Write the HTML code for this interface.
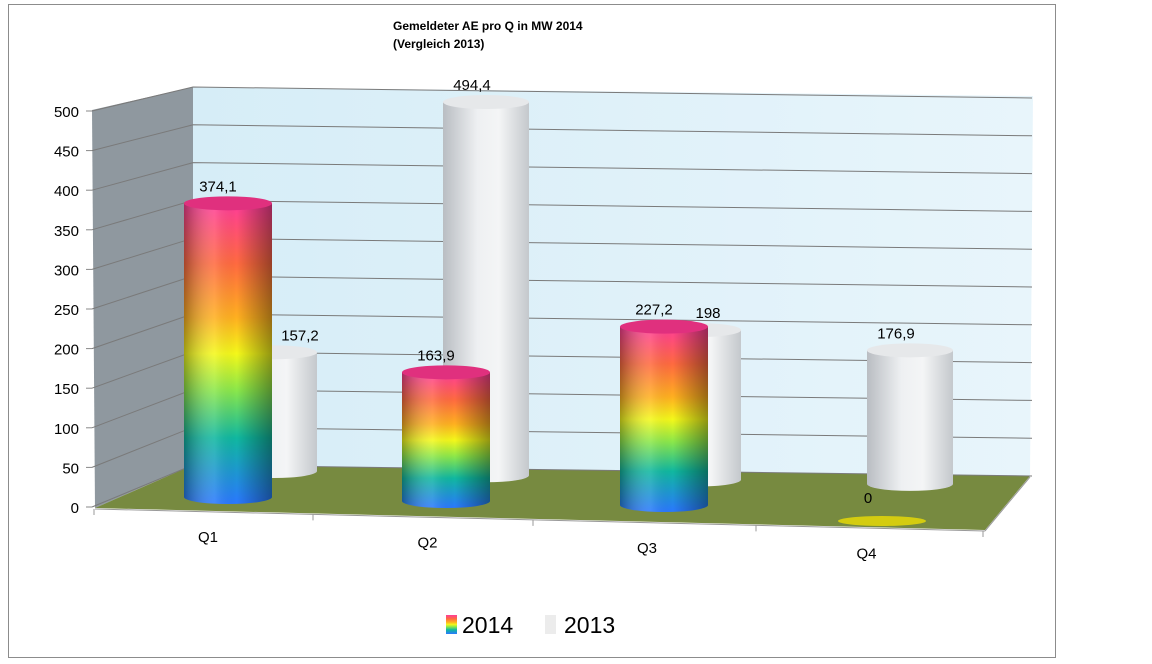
<!DOCTYPE html>
<html><head><meta charset="utf-8"><style>
html,body{margin:0;padding:0;background:#fff;}
svg{display:block;font-family:"Liberation Sans",sans-serif;}
</style></head><body>
<svg id="chart" width="1152" height="664" viewBox="0 0 1152 664" xmlns="http://www.w3.org/2000/svg">
<defs>
<linearGradient id="rain" x1="0" y1="0" x2="0" y2="1">
<stop offset="0" stop-color="#ff3d98"/><stop offset="0.2" stop-color="#ff6a40"/><stop offset="0.38" stop-color="#ffb020"/>
<stop offset="0.5" stop-color="#f4f81a"/><stop offset="0.62" stop-color="#8ce84a"/><stop offset="0.78" stop-color="#10b8a0"/>
<stop offset="1" stop-color="#2a78ff"/></linearGradient>
<linearGradient id="shade" x1="0" y1="0" x2="1" y2="0">
<stop offset="0" stop-color="#000" stop-opacity="0.35"/><stop offset="0.35" stop-color="#fff" stop-opacity="0.12"/>
<stop offset="0.6" stop-color="#000" stop-opacity="0"/><stop offset="1" stop-color="#000" stop-opacity="0.4"/></linearGradient>
<linearGradient id="grey" x1="0" y1="0" x2="1" y2="0">
<stop offset="0" stop-color="#b9bdc2"/><stop offset="0.4" stop-color="#eef0f2"/><stop offset="0.65" stop-color="#f4f5f6"/><stop offset="1" stop-color="#c4c8cc"/></linearGradient>
<linearGradient id="wall" x1="0" y1="0" x2="1" y2="0">
<stop offset="0" stop-color="#d6edf7"/><stop offset="1" stop-color="#e8f5fb"/></linearGradient>
</defs>
<rect x="8.5" y="4.5" width="1047" height="653" fill="#fff" stroke="#8c8c8c"/>
<text x="393" y="30" font-size="12" font-weight="bold">Gemeldeter AE  pro Q in MW 2014</text>
<text x="393" y="48" font-size="12" font-weight="bold">(Vergleich 2013)</text>
<polygon points="92,110 193,87 193,465 95,508" fill="#8f989f"/>
<polygon points="193,87 1033,96 1030,476 193,465" fill="url(#wall)"/>
<polygon points="95,508 193,465 1030,476 985,530" fill="#778a40"/>
<line x1="95" y1="509" x2="985" y2="531" stroke="#999"/>
<line x1="985" y1="531" x2="1030" y2="477" stroke="#999"/>
<g id="grid"></g><g id="axis"></g><g id="bars"></g><g id="labels"></g>
<g>
<rect x="446" y="615" width="11" height="19" fill="url(#rain)"/>
<text x="462" y="633" font-size="23">2014</text>
<rect x="545" y="615" width="11" height="19" fill="#ececec"/>
<text x="564" y="633" font-size="23">2013</text>
</g>
</svg>
<script>
const categories=["Q1","Q2","Q3","Q4"];
const values2014=[374.1,163.9,227.2,0];
const values2013=[157.2,494.4,198,176.9];
const labels2014=["374,1","163,9","227,2","0"];
const labels2013=["157,2","494,4","198","176,9"];
const ticks=[0,50,100,150,200,250,300,350,400,450,500];
const NS="http://www.w3.org/2000/svg";
function mk(t,a,p){const e=document.createElementNS(NS,t);for(const k in a)e.setAttribute(k,a[k]);p.appendChild(e);return e;}
// axis functions
function yFront(v){return 507-v*0.792;}
function yBack(v){return 465-v*0.756;}
function yBackR(v){return 476-v*0.756;}
function xCat(i,row){return row===0?228+i*218:274+i*212;}
function baseY(i,row){return row===0?497+i*4:471+i*4.3;}
const grid=document.getElementById('grid'),axis=document.getElementById('axis'),bars=document.getElementById('bars'),labels=document.getElementById('labels');
ticks.forEach(v=>{
 const g=mk('polyline',{points:`92,${yFront(v)} 193,${yBack(v)} 1032,${yBackR(v)}`,fill:'none',stroke:'#7a7a7a','stroke-width':1},grid);
 
 
 const t=mk('text',{x:79,y:yFront(v)+6,'font-size':15,'text-anchor':'end'},axis);t.textContent=v;
 
 
 const tk=mk('line',{x1:86,y1:yFront(v),x2:92,y2:yFront(v),stroke:'#888'},axis);
 
 
});
[94,313,533,756,983].forEach((x,i)=>{const y=509+(x-95)*22/890;const l=mk('line',{x1:x,y1:y,x2:x,y2:y+6,stroke:'#999'},axis);
 
 });
categories.forEach((c,i)=>{const x=208+i*219.5,y=542+i*5.5;const t=mk('text',{x:x,y:y,'font-size':15,'text-anchor':'middle'},axis);t.textContent=c;
 
 });
function cyl(cx,by,h,rx,fill,over,name){
 const g=mk('g',{},bars);
 
 
 const ry=7,ty=by-h;
 if(h<=0){mk('ellipse',{cx:cx,cy:by,rx:rx,ry:5,fill:'#d4cc10'},g);return ty;}
 mk('path',{d:`M${cx-rx},${ty} L${cx-rx},${by} A${rx},${ry} 0 0 0 ${cx+rx},${by} L${cx+rx},${ty} Z`,fill:fill},g);
 if(over)mk('path',{d:`M${cx-rx},${ty} L${cx-rx},${by} A${rx},${ry} 0 0 0 ${cx+rx},${by} L${cx+rx},${ty} Z`,fill:over},g);
 mk('ellipse',{cx:cx,cy:ty,rx:rx,ry:ry,fill:over?'#e0307e':'#e6e8ea'},g);
 return ty;
}
// back row 2013
values2013.forEach((v,i)=>{const cx=xCat(i,1),by=baseY(i,1);const ty=cyl(cx,by,v*0.755,43,'url(#grey)',null,'bar-2013-'+categories[i].toLowerCase());
 const t=mk('text',{x:cx+(i===2?10:(i===0?26:-14)),y:ty-12,'font-size':15,'text-anchor':'middle'},labels);t.textContent=labels2013[i];
 
 });
// floor overlay for back bar bases
values2014.forEach((v,i)=>{const cx=xCat(i,0),by=baseY(i,0)+(i===3?12:0);const ty=cyl(cx,by,v*0.785,44,'url(#rain)','url(#shade)','bar-2014-'+categories[i].toLowerCase());
 const t=mk('text',{x:cx-10+(i===3?-4:0),y:ty-12+(i===3?-6:0),'font-size':15,'text-anchor':'middle'},labels);t.textContent=labels2014[i];
 
 });
</script>
</body></html>
